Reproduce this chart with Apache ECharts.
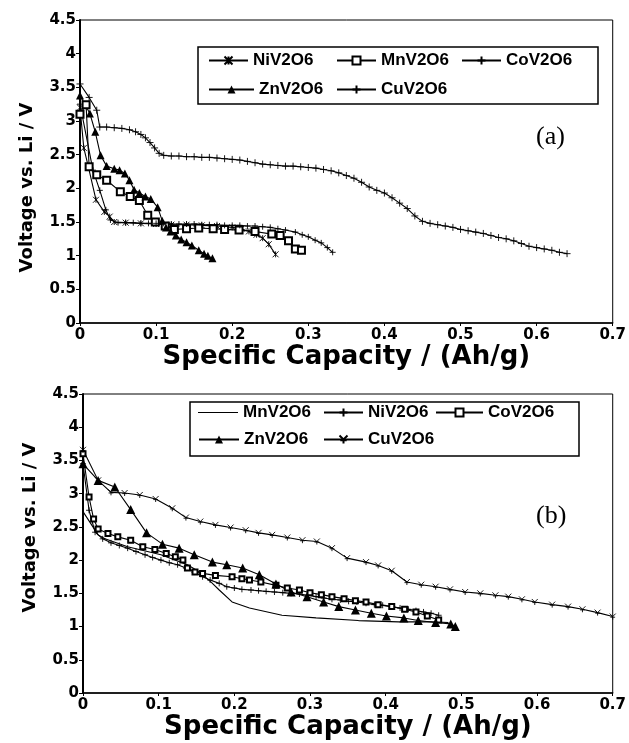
<!DOCTYPE html>
<html><head><meta charset="utf-8">
<script src="https://cdn.jsdelivr.net/npm/echarts@6/dist/echarts.min.js"></script>
<style>html,body{margin:0;padding:0;background:#fff}#c{width:629px;height:743px}</style>
</head><body><div id="c"></div>
<script>
// ---------- Panel (a) ----------
const aNiCap = [0,0.005,0.011,0.021,0.032,0.039,0.045,0.06,0.08,0.1,0.12,0.14,0.16,0.18,0.2,0.212,0.222,0.232,0.24,0.248,0.257];
const aNiV   = [3.2,2.6,2.32,1.83,1.65,1.58,1.5,1.49,1.48,1.47,1.46,1.46,1.45,1.44,1.42,1.4,1.36,1.31,1.26,1.17,1.02];

const aMnCap = [0,0.008,0.012,0.022,0.035,0.053,0.066,0.078,0.089,0.099,0.112,0.124,0.14,0.156,0.175,0.19,0.209,0.23,0.252,0.263,0.274,0.283,0.291];
const aMnV   = [3.1,3.24,2.32,2.2,2.12,1.95,1.88,1.82,1.6,1.5,1.44,1.39,1.4,1.41,1.4,1.39,1.38,1.36,1.32,1.3,1.22,1.1,1.08];

const aCoCap = [0,0.017,0.026,0.034,0.04,0.05,0.06,0.07,0.08,0.09,0.1,0.11,0.12,0.13,0.14,0.15,0.16,0.17,0.18,0.19,0.2,0.21,0.22,0.23,0.24,0.25,0.26,0.27,0.283,0.292,0.3,0.309,0.317,0.325,0.332];
const aCoV   = [3.25,2.27,1.97,1.68,1.53,1.49,1.49,1.49,1.48,1.48,1.48,1.48,1.47,1.47,1.47,1.47,1.46,1.46,1.46,1.45,1.45,1.45,1.44,1.44,1.43,1.42,1.4,1.38,1.35,1.31,1.28,1.23,1.19,1.12,1.05];

const aZnCap = [0,0.013,0.02,0.027,0.035,0.045,0.052,0.059,0.065,0.071,0.078,0.086,0.093,0.102,0.108,0.113,0.119,0.126,0.133,0.14,0.147,0.156,0.163,0.168,0.174];
const aZnV   = [3.38,3.11,2.84,2.49,2.33,2.29,2.27,2.22,2.12,1.98,1.93,1.88,1.84,1.72,1.52,1.42,1.36,1.3,1.24,1.2,1.15,1.08,1.03,1.0,0.96];

const aCuCap = [0,0.012,0.022,0.026,0.035,0.045,0.055,0.065,0.073,0.08,0.086,0.092,0.098,0.104,0.11,0.12,0.13,0.14,0.15,0.16,0.17,0.18,0.19,0.2,0.21,0.22,0.23,0.24,0.25,0.26,0.27,0.28,0.29,0.3,0.31,0.32,0.33,0.34,0.35,0.36,0.37,0.38,0.39,0.4,0.41,0.42,0.43,0.44,0.45,0.46,0.47,0.48,0.49,0.5,0.51,0.52,0.53,0.54,0.55,0.56,0.57,0.58,0.59,0.6,0.61,0.62,0.63,0.64];
const aCuV   = [3.55,3.35,3.16,2.91,2.91,2.9,2.89,2.87,2.84,2.8,2.75,2.68,2.6,2.52,2.49,2.48,2.48,2.47,2.47,2.46,2.46,2.45,2.44,2.43,2.42,2.4,2.38,2.36,2.35,2.34,2.33,2.33,2.32,2.31,2.3,2.28,2.26,2.23,2.19,2.15,2.09,2.02,1.97,1.93,1.86,1.78,1.7,1.59,1.51,1.48,1.46,1.44,1.42,1.39,1.37,1.35,1.33,1.3,1.27,1.25,1.22,1.18,1.14,1.12,1.1,1.08,1.05,1.03];

// ---------- Panel (b) ----------
const bMnCap = [0,0.02,0.029,0.059,0.103,0.138,0.154,0.17,0.18,0.197,0.22,0.263,0.308,0.364,0.417,0.46,0.483];
const bMnV   = [2.73,2.38,2.32,2.2,2.08,1.93,1.82,1.66,1.55,1.37,1.28,1.17,1.13,1.09,1.07,1.07,1.06];

const bNiCap = [0,0.008,0.016,0.026,0.037,0.048,0.059,0.07,0.082,0.092,0.103,0.114,0.125,0.136,0.147,0.158,0.168,0.18,0.19,0.2,0.21,0.222,0.232,0.242,0.253,0.264,0.275,0.286,0.297,0.308,0.318,0.329,0.34,0.351,0.362,0.374,0.385,0.396,0.408,0.419,0.43,0.44,0.45,0.46,0.47];
const bNiV   = [3.45,2.75,2.42,2.32,2.26,2.22,2.18,2.13,2.08,2.04,2.0,1.96,1.93,1.88,1.82,1.75,1.7,1.65,1.6,1.58,1.56,1.55,1.54,1.53,1.52,1.51,1.5,1.49,1.47,1.45,1.43,1.41,1.4,1.38,1.37,1.35,1.33,1.32,1.3,1.28,1.26,1.24,1.22,1.2,1.17];

const bCoCap = [0,0.008,0.014,0.02,0.033,0.046,0.063,0.079,0.095,0.11,0.122,0.132,0.138,0.148,0.158,0.175,0.197,0.21,0.22,0.235,0.255,0.27,0.286,0.3,0.315,0.329,0.345,0.36,0.374,0.39,0.408,0.425,0.44,0.455,0.47];
const bCoV   = [3.6,2.95,2.62,2.47,2.4,2.35,2.3,2.2,2.16,2.1,2.05,2.0,1.88,1.82,1.8,1.77,1.75,1.72,1.7,1.67,1.62,1.58,1.55,1.51,1.48,1.45,1.42,1.39,1.37,1.33,1.3,1.26,1.22,1.16,1.1];

const bZnCap = [0,0.02,0.042,0.063,0.084,0.105,0.127,0.147,0.171,0.19,0.211,0.233,0.255,0.275,0.296,0.318,0.338,0.36,0.381,0.401,0.424,0.443,0.466,0.486,0.492];
const bZnV   = [3.45,3.2,3.1,2.76,2.41,2.24,2.18,2.08,1.97,1.93,1.88,1.78,1.64,1.52,1.45,1.37,1.3,1.25,1.2,1.16,1.13,1.09,1.06,1.04,1.0];

const bCuCap = [0,0.02,0.037,0.055,0.075,0.096,0.118,0.136,0.155,0.175,0.195,0.215,0.232,0.25,0.27,0.29,0.309,0.329,0.349,0.374,0.39,0.408,0.428,0.447,0.466,0.485,0.505,0.525,0.545,0.562,0.58,0.597,0.62,0.641,0.66,0.68,0.7];
const bCuV   = [3.66,3.2,3.02,3.01,2.98,2.92,2.78,2.64,2.58,2.53,2.49,2.45,2.41,2.38,2.34,2.3,2.28,2.18,2.03,1.97,1.92,1.84,1.67,1.63,1.6,1.56,1.52,1.5,1.47,1.45,1.41,1.37,1.33,1.3,1.26,1.21,1.15];

const xTickLabels = ['0','0.1','0.2','0.3','0.4','0.5','0.6','0.7'];
const yTickLabels = ['0','0.5','1','1.5','2','2.5','3','3.5','4','4.5'];

const xName = 'Specific Capacity / (Ah/g)';
const yName = 'Voltage vs. Li / V';

const PLUS = 'path://M5 0L5 10M0 5L10 5';
const STAR = 'path://M0 0L10 10M0 10L10 0M5 0L5 10';
const YEN  = 'path://M0 0L5 5M10 0L5 5M5 5L5 10M1 6L9 6';

function pairs(c, v){ return c.map((x,i)=>[x, v[i]]); }
function mk(name, c, v, sym, size, g, bw){
  const isPath = typeof sym === 'string' && sym.indexOf('path://') === 0;
  return {type:'line', name:name, xAxisIndex:g, yAxisIndex:g, data:pairs(c,v),
    symbol:sym, symbolSize:size, showSymbol: sym!=='none', showAllSymbol:true,
    lineStyle:{color:'#000', width:1.1},
    itemStyle:{color: isPath ? 'rgba(0,0,0,0)' : '#000', borderColor:'#000', borderWidth:bw},
    emphasis:{disabled:true}, animation:false};
}

const series = [
  mk('NiV2O6', aNiCap, aNiV, STAR, 6, 0, 0.9),
  mk('MnV2O6', aMnCap, aMnV, 'emptyRect', 7, 0, 1),
  mk('CoV2O6', aCoCap, aCoV, PLUS, 6, 0, 0.9),
  mk('ZnV2O6', aZnCap, aZnV, 'triangle', 8, 0, 0),
  mk('CuV2O6', aCuCap, aCuV, PLUS, 7, 0, 0.9),
  mk('b:MnV2O6', bMnCap, bMnV, 'none', 0, 1, 0),
  mk('b:NiV2O6', bNiCap, bNiV, PLUS, 6, 1, 0.9),
  mk('b:CoV2O6', bCoCap, bCoV, 'emptyRect', 5, 1, 0.9),
  mk('b:ZnV2O6', bZnCap, bZnV, 'triangle', 9, 1, 0),
  mk('b:CuV2O6', bCuCap, bCuV, YEN, 6, 1, 0.9)
];

const tickFont = {fontFamily:'DejaVu Sans', fontWeight:'bold', fontSize:15, color:'#000'};
function xAx(g){
  return {type:'value', gridIndex:g, min:0, max:0.7, interval:0.1,
    axisLine:{lineStyle:{color:'#000', width:1.5}}, axisTick:{show:true, length:3, lineStyle:{color:'#000'}},
    axisLabel:Object.assign({margin:5, formatter:(v)=>xTickLabels[Math.round(v*10)]}, tickFont),
    splitLine:{show:false}, name:xName, nameLocation:'middle', nameGap:17,
    nameTextStyle:{fontFamily:'DejaVu Sans', fontWeight:'bold', fontSize:26, color:'#000', verticalAlign:'top'}};
}
function yAx(g, shift){
  return {type:'value', gridIndex:g, min:0, max:4.5, interval:0.5,
    axisLine:{lineStyle:{color:'#000', width:2}}, axisTick:{show:true, length:4, lineStyle:{color:'#000'}},
    axisLabel:Object.assign({margin:4, formatter:(v)=>yTickLabels[Math.round(v*2)]}, tickFont),
    splitLine:{show:false}, name:yName, nameLocation:'middle', nameGap:44,
    nameTextStyle:{fontFamily:'DejaVu Sans', fontWeight:'bold', fontSize:18, color:'#000',
      padding: shift > 0 ? [0, shift*2, 0, 0] : [0, 0, 0, -shift*2]}};
}

const legTxt = {fontFamily:'Liberation Sans', fontWeight:'bold', fontSize:17, color:'#000'};
function leg(name, left, cy, iw, icon){
  const item = icon ? {name:name, icon:icon} : name;
  return {data:[item], left:left, top:cy-9, itemWidth:iw, itemHeight: icon ? 1.2 : 10, padding:0,
    textStyle:legTxt, formatter:(n)=>n.replace('b:',''), selectedMode:false, inactiveColor:'#000'};
}

const option = {
  backgroundColor:'#fff',
  animation:false,
  title:[
    {text:'(a)', left:536, top:124, padding:0, textStyle:{fontFamily:'Liberation Serif', fontWeight:'normal', fontSize:26, color:'#000'}},
    {text:'(b)', left:536, top:503, padding:0, textStyle:{fontFamily:'Liberation Serif', fontWeight:'normal', fontSize:26, color:'#000'}}
  ],
  grid:[
    {left:80, top:20, width:534, height:303, show:true, borderColor:'#000', borderWidth:1, containLabel:false},
    {left:83, top:394, width:532, height:299, show:true, borderColor:'#000', borderWidth:1, containLabel:false}
  ],
  xAxis:[xAx(0), xAx(1)],
  yAxis:[yAx(0, 16), yAx(1, -16)],
  legend:[
    leg('NiV2O6', 208, 61, 39), leg('MnV2O6', 336, 61, 39), leg('CoV2O6', 461, 61, 39),
    leg('ZnV2O6', 208, 90, 45), leg('CuV2O6', 336, 90, 39),
    leg('b:MnV2O6', 198, 413, 40, 'rect'), leg('b:NiV2O6', 323, 413, 39), leg('b:CoV2O6', 435, 413, 47),
    leg('b:ZnV2O6', 198, 440, 40), leg('b:CuV2O6', 323, 440, 39)
  ],
  graphic:[
    {type:'rect', shape:{x:198, y:47, width:400, height:57}, style:{fill:'none', stroke:'#000', lineWidth:1.5}, z:10},
    {type:'rect', shape:{x:190, y:402, width:389, height:54}, style:{fill:'none', stroke:'#000', lineWidth:1.5}, z:10}
  ],
  series:series
};

const chart = echarts.init(document.getElementById('c'), null, {renderer:'canvas'});
chart.setOption(option);
</script></body></html>
